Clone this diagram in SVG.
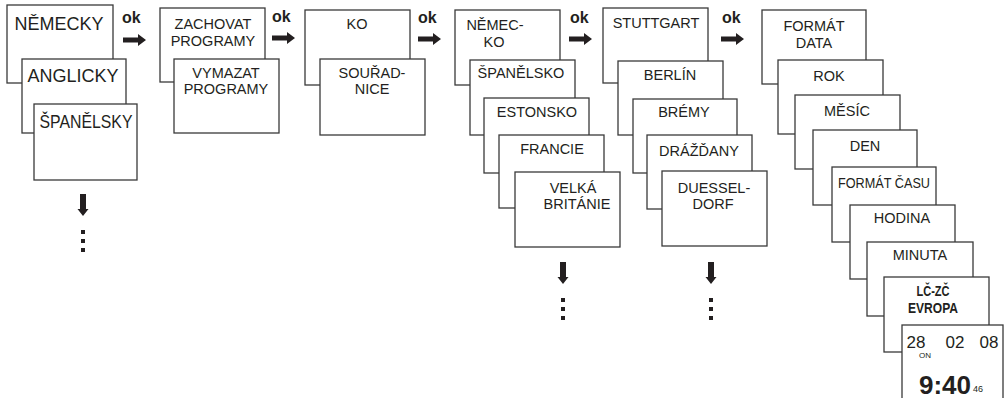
<svg xmlns="http://www.w3.org/2000/svg" xmlns:xlink="http://www.w3.org/1999/xlink" width="1005" height="398" viewBox="0 0 1005 398">
<style>
.box{fill:#fff;stroke:#3a3a3a;stroke-width:1.3}
.t{font-family:"Liberation Sans",Arial,sans-serif;fill:#231f20;text-anchor:middle}
.l{font-size:18px}
.m{font-size:14.5px}
.b{font-weight:bold}
.ok{font-family:"Liberation Sans",Arial,sans-serif;font-weight:bold;font-size:16px;fill:#231f20}
.ar{fill:#231f20}
</style>
<defs>
<path id="ra" d="M0,-2.5 H15 V-6 L23,0 L15,6 V2.5 H0 Z"/>
<g id="da">
<path d="M-3,0 H3 V15 H5.5 L0,22 L-5.5,15 H-3 Z"/>
<rect x="-2" y="36" width="4" height="4"/>
<rect x="-2" y="45" width="4" height="4"/>
<rect x="-2" y="54" width="4" height="4"/>
</g>
</defs>

<g id="connectors" class="ar">
<text class="ok" x="122" y="23">ok</text>
<use xlink:href="#ra" x="123" y="40"/>
<text class="ok" x="272" y="22">ok</text>
<use xlink:href="#ra" x="272" y="38"/>
<text class="ok" x="418" y="23">ok</text>
<use xlink:href="#ra" x="418" y="39"/>
<text class="ok" x="570" y="23">ok</text>
<use xlink:href="#ra" x="569" y="39"/>
<text class="ok" x="722" y="23">ok</text>
<use xlink:href="#ra" x="721" y="39"/>
<use xlink:href="#da" x="83" y="194"/>
<use xlink:href="#da" x="563" y="262"/>
<use xlink:href="#da" x="711" y="262"/>
</g>

<g id="col1">
<g id="n-nemecky"><rect class="box" x="7" y="5" width="106" height="78"/><text class="t l" x="59" y="30">NĚMECKY</text></g>
<g id="n-anglicky"><rect class="box" x="22" y="59" width="104" height="74"/><text class="t l" x="73" y="82">ANGLICKY</text></g>
<g id="n-spanelsky"><rect class="box" x="34" y="104" width="103" height="76"/><text class="t l" x="86" y="128" textLength="93" lengthAdjust="spacingAndGlyphs">ŠPANĚLSKY</text></g>
</g>

<g id="col2">
<g id="n-zachovat"><rect class="box" x="160" y="8" width="105" height="74"/><text class="t m" x="213" y="29">ZACHOVAT</text><text class="t m" x="213" y="46">PROGRAMY</text></g>
<g id="n-vymazat"><rect class="box" x="174" y="59" width="105" height="74"/><text class="t m" x="226" y="78">VYMAZAT</text><text class="t m" x="226" y="94">PROGRAMY</text></g>
</g>

<g id="col3">
<g id="n-ko"><rect class="box" x="305" y="10" width="105" height="75"/><text class="t m" x="357" y="29">KO</text></g>
<g id="n-souradnice"><rect class="box" x="320" y="59" width="105" height="76"/><text class="t m" x="372" y="78">SOUŘAD-</text><text class="t m" x="372" y="94">NICE</text></g>
</g>

<g id="col4">
<g id="n-nemecko"><rect class="box" x="455" y="10" width="105" height="75"/><text class="t m" x="495" y="30">NĚMEC-</text><text class="t m" x="494" y="47">KO</text></g>
<g id="n-spanelsko"><rect class="box" x="470" y="60" width="105" height="75"/><text class="t m" x="521" y="78">ŠPANĚLSKO</text></g>
<g id="n-estonsko"><rect class="box" x="484" y="98" width="105" height="75"/><text class="t m" x="537" y="117">ESTONSKO</text></g>
<g id="n-francie"><rect class="box" x="499" y="135" width="105" height="73"/><text class="t m" x="552" y="154">FRANCIE</text></g>
<g id="n-velka"><rect class="box" x="515" y="172" width="105" height="75"/><text class="t m" x="573" y="193">VELKÁ</text><text class="t m" x="577" y="209">BRITÁNIE</text></g>
</g>

<g id="col5">
<g id="n-stuttgart"><rect class="box" x="603" y="8" width="105" height="75"/><text class="t m" x="656" y="28">STUTTGART</text></g>
<g id="n-berlin"><rect class="box" x="618" y="61" width="105" height="74"/><text class="t m" x="670" y="80">BERLÍN</text></g>
<g id="n-bremy"><rect class="box" x="633" y="99" width="104" height="74"/><text class="t m" x="684" y="117">BRÉMY</text></g>
<g id="n-drazdany"><rect class="box" x="647" y="135" width="105" height="74"/><text class="t m" x="699" y="156">DRÁŽĎANY</text></g>
<g id="n-duesseldorf"><rect class="box" x="662" y="171" width="105" height="75"/><text class="t m" x="714" y="193">DUESSEL-</text><text class="t m" x="713" y="209">DORF</text></g>
</g>

<g id="col6">
<g id="n-format-data"><rect class="box" x="762" y="10" width="104" height="74"/><text class="t m" x="814" y="31">FORMÁT</text><text class="t m" x="814" y="48">DATA</text></g>
<g id="n-rok"><rect class="box" x="778" y="60" width="105" height="74"/><text class="t m" x="829" y="81">ROK</text></g>
<g id="n-mesic"><rect class="box" x="795" y="95" width="105" height="74"/><text class="t m" x="847" y="116">MĚSÍC</text></g>
<g id="n-den"><rect class="box" x="813" y="130" width="104" height="75"/><text class="t m" x="865" y="151">DEN</text></g>
<g id="n-format-casu"><rect class="box" x="832" y="167" width="104" height="75"/><text class="t m" x="884" y="188" textLength="92" lengthAdjust="spacingAndGlyphs">FORMÁT ČASU</text></g>
<g id="n-hodina"><rect class="box" x="850" y="205" width="105" height="74"/><text class="t m" x="902" y="223">HODINA</text></g>
<g id="n-minuta"><rect class="box" x="867" y="242" width="106" height="74"/><text class="t m" x="920" y="260">MINUTA</text></g>
<g id="n-lczc"><rect class="box" x="884" y="277" width="105" height="75"/><text class="t b" x="933" y="296" font-size="14.5" textLength="33" lengthAdjust="spacingAndGlyphs">LČ-ZČ</text><text class="t b" x="933" y="313" font-size="14.5" textLength="50" lengthAdjust="spacingAndGlyphs">EVROPA</text></g>
<g id="n-clock"><rect class="box" x="902" y="325" width="101" height="80"/>
<text class="t" x="916" y="348" font-size="17">28</text>
<text class="t" x="955" y="348" font-size="17">02</text>
<text class="t" x="989" y="348" font-size="17">08</text>
<text class="t" x="925" y="358" font-size="8">ON</text>
<text class="t b" x="945" y="394" font-size="26">9:40</text>
<text class="t" x="978" y="392" font-size="9">46</text>
</g>
</g>
</svg>
